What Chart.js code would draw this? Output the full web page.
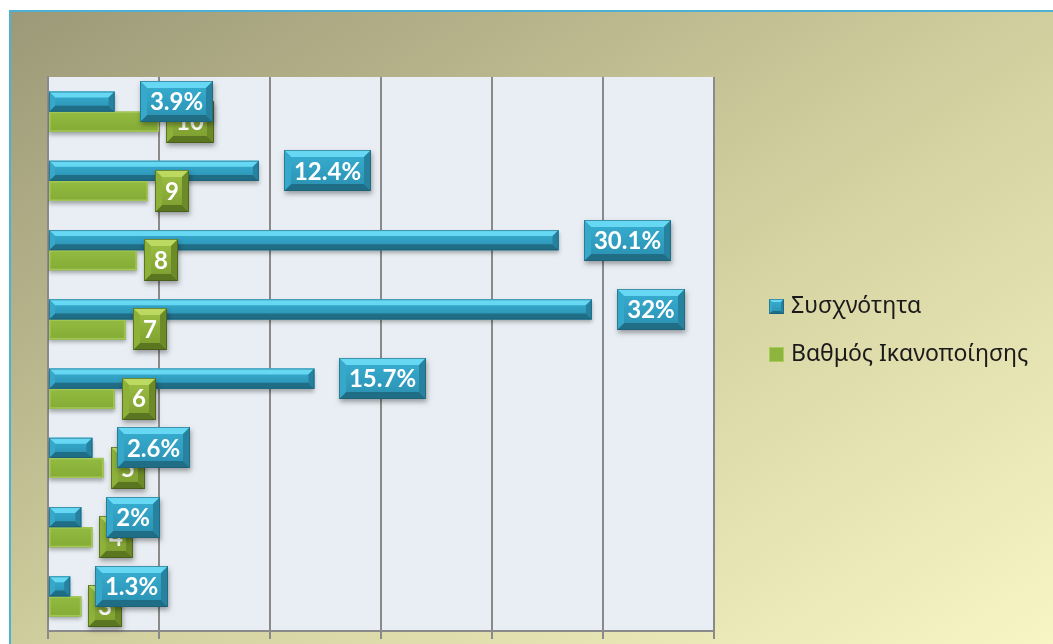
<!DOCTYPE html>
<html><head><meta charset="utf-8">
<script src="https://cdn.jsdelivr.net/npm/chart.js@4.4.0/dist/chart.umd.min.js"></script>
<style>
html,body{margin:0;padding:0;overflow:hidden;background:#fff;width:1053px;height:644px;}
#frame{position:absolute;left:9px;top:10px;width:1100px;height:700px;border:2px solid #4fb0d1;
background:linear-gradient(to bottom right,#9c9978 0%,#d6d3a2 52%,#fdfcca 100%);}
#wrap{position:absolute;left:0;top:0;width:1053px;height:644px;}
</style></head><body>
<div id="frame"></div>
<div id="wrap"><canvas id="c" width="1053" height="644"></canvas></div>
<script>
// ---- data (bottom to top) ----
const categories = ['3','4','5','6','7','8','9','10'];
const frequencyCounts = [2, 3, 4, 24, 49, 46, 19, 6];
const frequencyPercents = [1.3, 2, 2.6, 15.7, 32, 30.1, 12.4, 3.9];
const satisfactionScores = [3, 4, 5, 6, 7, 8, 9, 10];
const seriesNames = ['Συσχνότητα', 'Βαθμός Ικανοποίησης'];
const xAxisMin = 0, xAxisMax = 60, xAxisStep = 10;

const BLUE = {faceTop:'#38b0d3', faceBottom:'#2a8fb0', top:'#66d8f3', bottom:'#206d86', right:'#2782a0', left:'#36a9ca', stroke:'rgba(25,90,110,0.55)'};
const GREEN = {faceTop:'#9fc246', faceBottom:'#7a9b2d', top:'#bcd961', bottom:'#5a7621', right:'#6c8a27', left:'#8db139', stroke:'rgba(60,80,20,0.6)'};
const LABEL_FONT = 'bold 24px Lato, "Noto Sans", sans-serif';

function poly(ctx, pts, color){
  ctx.beginPath(); ctx.moveTo(pts[0][0],pts[0][1]);
  for(let i=1;i<pts.length;i++) ctx.lineTo(pts[i][0],pts[i][1]);
  ctx.closePath(); ctx.fillStyle=color; ctx.fill();
}
function bevelRect(ctx,L,T,W,H,b,c){
  const R=L+W,B=T+H;
  const g=ctx.createLinearGradient(0,T,0,B);
  g.addColorStop(0,c.faceTop); g.addColorStop(1,c.faceBottom);
  ctx.fillStyle=g; ctx.fillRect(L,T,W,H);
  poly(ctx,[[L,T],[R,T],[R-b,T+b],[L+b,T+b]],c.top);
  poly(ctx,[[L,B],[R,B],[R-b,B-b],[L+b,B-b]],c.bottom);
  poly(ctx,[[R,T],[R,B],[R-b,B-b],[R-b,T+b]],c.right);
  poly(ctx,[[L,T],[L,B],[L+b,B-b],[L+b,T+b]],c.left);
  if(c.stroke){ctx.strokeStyle=c.stroke;ctx.lineWidth=1;ctx.strokeRect(L+0.5,T+0.5,W-1,H-1);}
}
function labelBox(ctx,text,L,cy,H,c,font,b){
  ctx.font=font;
  const W=Math.round(ctx.measureText(text).width+20);
  const T=Math.round(cy-H/2);
  ctx.save();
  ctx.shadowColor='rgba(0,0,0,0.35)'; ctx.shadowBlur=5; ctx.shadowOffsetY=3; ctx.shadowOffsetX=1;
  ctx.fillStyle=c.faceBottom; ctx.fillRect(L,T,W,H);
  ctx.restore();
  bevelRect(ctx,L,T,W,H,b,c);
  ctx.fillStyle='#ffffff'; ctx.textAlign='center'; ctx.textBaseline='middle';
  ctx.fillText(text,L+W/2,cy+1);
}

const plotBg = {
  id:'plotBg',
  beforeDraw(chart){
    const {ctx,chartArea:a}=chart;
    ctx.save(); ctx.fillStyle='#e8eef3'; ctx.fillRect(a.left,a.top,a.right-a.left,a.bottom-a.top); ctx.restore();
  }
};

const decor = {
  id:'decor',
  beforeDatasetsDraw(chart){
    const ctx=chart.ctx; ctx.save();
    ctx.shadowColor='rgba(0,0,0,0.3)'; ctx.shadowBlur=4; ctx.shadowOffsetY=3;
  },
  afterDatasetsDraw(chart){
    const ctx=chart.ctx; ctx.restore();
    const mBlue=chart.getDatasetMeta(0), mGreen=chart.getDatasetMeta(1);
    mGreen.data.forEach(el=>{
      const p=el.getProps(['x','y','base','height'],true);
      const L=Math.min(p.base,p.x), R=Math.max(p.base,p.x), T=p.y-p.height/2;
      const g=ctx.createLinearGradient(0,T,0,T+p.height);
      g.addColorStop(0,'#93bb40'); g.addColorStop(1,'#84ab35');
      ctx.fillStyle=g; ctx.fillRect(L,T,R-L,p.height);
      ctx.strokeStyle='#a3c756'; ctx.lineWidth=1.5; ctx.strokeRect(L+0.75,T+0.75,R-L-1.5,p.height-1.5);
    });
    mBlue.data.forEach(el=>{
      const p=el.getProps(['x','y','base','height'],true);
      const L=Math.min(p.base,p.x), R=Math.max(p.base,p.x), T=p.y-p.height/2;
      bevelRect(ctx,L,T,R-L,p.height,6,BLUE);
    });
    mGreen.data.forEach((el,i)=>{
      const p=el.getProps(['x','y'],true);
      labelBox(ctx,String(satisfactionScores[i]),Math.round(p.x+7),p.y,42,GREEN,LABEL_FONT,7);
    });
    mBlue.data.forEach((el,i)=>{
      const p=el.getProps(['x','y'],true);
      labelBox(ctx,frequencyPercents[i]+'%',Math.round(p.x+25),p.y,41,BLUE,LABEL_FONT,7);
    });
  },
  afterDraw(chart){
    const ctx=chart.ctx;
    const a=chart.chartArea;
    const x=a.right+55, y0=a.top+230, step=48;
    ctx.save();
    bevelRect(ctx,x,y0-8,15,15,3,BLUE);
    ctx.fillStyle='#8db43c'; ctx.fillRect(x,y0+step-8,15,15);
    ctx.strokeStyle='#a9cd5c'; ctx.lineWidth=1; ctx.strokeRect(x+0.5,y0+step-7.5,14,14);
    ctx.fillStyle='#1a1a1a'; ctx.font='23px "Noto Sans"'; ctx.textAlign='left'; ctx.textBaseline='middle';
    chart.data.datasets.forEach((ds,i)=>ctx.fillText(ds.label,x+22,y0+i*step-1));
    ctx.restore();
  }
};

new Chart(document.getElementById('c'),{
  type:'bar',
  data:{
    labels:categories,
    datasets:[
      {label:seriesNames[0],data:frequencyCounts,backgroundColor:'#34a8ca',borderWidth:0,categoryPercentage:0.58,barPercentage:1},
      {label:seriesNames[1],data:satisfactionScores,backgroundColor:'#8db43c',borderWidth:0,categoryPercentage:0.58,barPercentage:1}
    ]
  },
  options:{
    indexAxis:'y',
    responsive:false,
    animation:false,
    devicePixelRatio:1,
    layout:{padding:{left:48,top:77,right:339,bottom:0}},
    scales:{
      x:{min:xAxisMin,max:xAxisMax,
         ticks:{display:false,stepSize:xAxisStep},
         grid:{color:'#8a8a8a',lineWidth:2,tickLength:8,drawTicks:true},
         border:{display:true,color:'#8a8a8a',width:2},
         afterFit(s){s.height=13;}},
      y:{reverse:true,
         ticks:{display:false},
         grid:{display:false},
         border:{display:true,color:'#8a8a8a',width:2},
         afterFit(s){s.width=0;}}
    },
    plugins:{legend:{display:false},tooltip:{enabled:false}}
  },
  plugins:[plotBg,decor]
});
</script>
</body></html>
